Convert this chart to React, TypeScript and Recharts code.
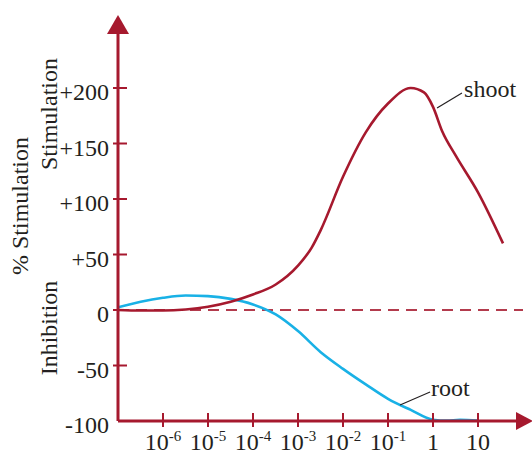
import React from 'react';
import { LineChart, Line, XAxis, YAxis, ReferenceLine, ReferenceDot } from 'recharts';

// concentration (log axis) vs % stimulation / inhibition
const shootConc = [1e-7, 3.2e-7, 1e-6, 3.2e-6, 1e-5, 3.2e-5, 1e-4, 3.2e-4, 1e-3, 2e-3, 3.2e-3, 1e-2, 3.2e-2, 0.1, 0.32, 0.63, 1, 1.6, 3.2, 10, 36];
const shootValues = [0, -0.5, -0.5, 0.5, 3, 7.5, 14, 23, 40, 56, 72, 120, 160, 186, 200, 196, 183, 161, 139, 106, 60];

const rootConc = [1e-7, 3.2e-7, 1e-6, 3.2e-6, 1e-5, 3.2e-5, 1e-4, 3.2e-4, 1e-3, 3.2e-3, 1e-2, 3.2e-2, 0.1, 0.32, 1, 2, 4, 10];
const rootValues = [2.5, 7.5, 11, 13, 12.5, 10, 5, -4, -19, -38, -53, -67, -80, -90, -98.8, -99.6, -99, -99.6];

const xTicks = [1e-6, 1e-5, 1e-4, 1e-3, 1e-2, 1e-1, 1, 10];
const yTicks = [-100, -50, 0, 50, 100, 150, 200];

const RED = '#a6192e';
const BLUE = '#19b1e6';
const INK = '#231f20';
const FONT = '"Liberation Serif", "DejaVu Serif", serif';

const shootData = shootConc.map((x, i) => ({ x, y: shootValues[i] }));
const rootData = rootConc.map((x, i) => ({ x, y: rootValues[i] }));

const W = 532;
const H = 456;
const margin = { top: 32.5, right: 9, bottom: 34, left: 117 };

const YTick = (props: any) => {
  const { x, y, payload } = props;
  const v = payload.value;
  return (
    <g>
      {v !== -100 && <line x1={x - 5} x2={x + 9} y1={y} y2={y} stroke={RED} strokeWidth={2} />}
      <text x={x - 9} y={y + 4} textAnchor="end" dominantBaseline="central" fontFamily={FONT} fontSize={24} fill={INK}>
        {v > 0 ? `+${v}` : `${v}`}
      </text>
    </g>
  );
};

const XTick = (props: any) => {
  const { x, y, payload } = props;
  const v = payload.value;
  const exp = Math.round(Math.log10(v));
  return (
    <g>
      <line x1={x} x2={x} y1={y - 8} y2={y + 6} stroke={RED} strokeWidth={2} />
      {exp < 0 ? (
        <text x={x} y={y + 29} textAnchor="middle" fontFamily={FONT} fontSize={24} fill={INK}>
          10<tspan dy={-9} fontSize={15}>{`-${-exp}`}</tspan>
        </text>
      ) : (
        <text x={x} y={y + 29} textAnchor="middle" fontFamily={FONT} fontSize={24} fill={INK}>
          {v}
        </text>
      )}
    </g>
  );
};

const textShape = (label: string) => (p: any) => (
  <text x={p.cx} y={p.cy} fontFamily={FONT} fontSize={24} fill={INK}>{label}</text>
);

export default function App() {
  return (
    <div style={{ position: 'absolute', left: 0, top: 0, width: W, height: H }}>
      <LineChart width={W} height={H} margin={margin}>
        <XAxis
          type="number"
          dataKey="x"
          scale="log"
          domain={[1e-7, 100]}
          allowDataOverflow
          ticks={xTicks}
          interval={0}
          height={1}
          tickSize={0}
          tickMargin={0}
          tickLine={false}
          tick={<XTick />}
          axisLine={{ stroke: RED, strokeWidth: 3 }}
        />
        <YAxis
          type="number"
          domain={[-100, 250]}
          ticks={yTicks}
          interval={0}
          width={1}
          tickSize={0}
          tickMargin={0}
          tickLine={false}
          tick={<YTick />}
          axisLine={{ stroke: RED, strokeWidth: 3 }}
        />
        <ReferenceLine y={0} stroke={RED} strokeWidth={2} strokeDasharray="11 7" strokeOpacity={0.85} />
        <Line data={rootData} dataKey="y" type="monotone" stroke={BLUE} strokeWidth={2.6} dot={false} isAnimationActive={false} />
        <Line data={shootData} dataKey="y" type="monotone" stroke={RED} strokeWidth={2.6} dot={false} isAnimationActive={false} />
        <ReferenceLine segment={[{ x: 1.23, y: 182 }, { x: 4.4, y: 195.5 }]} stroke={INK} strokeWidth={1.2} />
        <ReferenceLine segment={[{ x: 0.185, y: -85.6 }, { x: 0.86, y: -73.9 }]} stroke={INK} strokeWidth={1.2} />
        <ReferenceDot x={4.9} y={192} r={0} shape={textShape('shoot')} />
        <ReferenceDot x={0.9} y={-77.5} r={0} shape={textShape('root')} />
      </LineChart>
      <svg width={W} height={H} style={{ position: 'absolute', left: 0, top: 0, pointerEvents: 'none' }}>
        <polygon points={`118,15 107,34 129,34`} fill={RED} />
        <polygon points={`533,421 516,412 516,430`} fill={RED} />
        <g fontFamily={FONT} fontSize={24} fill={INK}>
          <text transform="translate(28,206) rotate(-90)" textAnchor="middle">% Stimulation</text>
          <text transform="translate(57,114) rotate(-90)" textAnchor="middle">Stimulation</text>
          <text transform="translate(57,328) rotate(-90)" textAnchor="middle">Inhibition</text>
        </g>
      </svg>
    </div>
  );
}
